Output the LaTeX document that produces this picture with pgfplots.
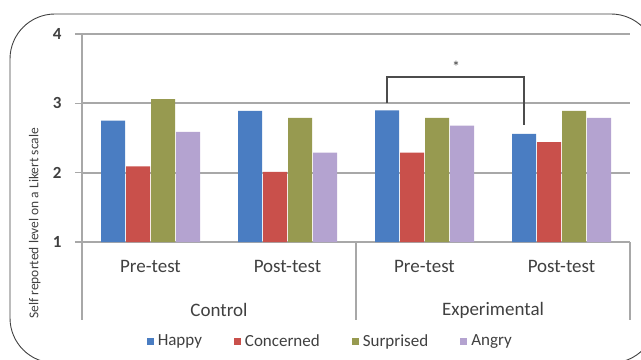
\documentclass[border=0pt]{standalone}
\usepackage{pgfplots}
\pgfplotsset{compat=1.18}
\usepackage{fontspec}
\setmainfont{Carlito}
\definecolor{cHappy}{HTML}{4A7DC2}
\definecolor{cConc}{HTML}{C9504B}
\definecolor{cSurp}{HTML}{979A50}
\definecolor{cAngry}{HTML}{B4A3D0}
\definecolor{gridgray}{HTML}{A8A8A8}
\definecolor{txt}{HTML}{404040}
\begin{document}
\begin{tikzpicture}
\clip (0,0) rectangle (641bp,360bp);
\draw[black!75, line width=0.9bp, rounded corners=45bp] (10bp,-3bp) rectangle (656bp,346bp);
\begin{axis}[
  name=ax, at={(82bp,118bp)}, anchor=south west,
  scale only axis, width=548bp, height=208bp,
  clip mode=individual,
  /pgf/number format/assume math mode=true,
  ybar=1bp, bar width=24bp,
  xmin=-0.5, xmax=3.5, ymin=1, ymax=4,
  xtick={0,1,2,3}, xticklabels={Pre-test,Post-test,Pre-test,Post-test},
  major x tick style={draw=none},
  ytick={1,2,3,4},
  ymajorgrids, grid style={draw=gridgray, line width=2bp},
  axis x line*=bottom, axis y line*=left,
  axis line style={draw=gridgray, line width=2bp},
  y tick style={draw=gridgray, line width=1.5bp},
  tick align=outside, major tick length=7bp,
  yticklabel style={font=\fontsize{17bp}{19bp}\selectfont\bfseries, text=txt, xshift=-10bp},
  xticklabel style={font=\fontsize{19bp}{22bp}\selectfont, text=txt, yshift=-8bp},
  ylabel={Self reported level on a Likert scale},
  ylabel style={at={(axis description cs:-0.086,0.09)}, anchor=center, font=\fontsize{13.5bp}{16bp}\selectfont, text=txt},
  legend columns=4,
  legend style={at={(axis description cs:0.453,-0.476)}, anchor=center, draw=none, fill=none,
    font=\fontsize{17bp}{19bp}\selectfont, text=txt,
    /tikz/every odd column/.append style={column sep=2bp},
    /tikz/every even column/.append style={column sep=30bp},
    inner sep=0pt},
  legend image code/.code={\fill[#1] (0bp,-3.5bp) rectangle (7bp,3.5bp);},
]
\addplot[fill=cHappy, draw=none] coordinates {(0,2.75) (1,2.89) (2,2.90) (3,2.56)};
\addplot[fill=cConc, draw=none] coordinates {(0,2.09) (1,2.01) (2,2.29) (3,2.44)};
\addplot[fill=cSurp, draw=none] coordinates {(0,3.06) (1,2.79) (2,2.79) (3,2.89)};
\addplot[fill=cAngry, draw=none] coordinates {(0,2.59) (1,2.29) (2,2.68) (3,2.79)};
\legend{Happy,Concerned,Surprised,Angry}
\draw[black!70, line width=2bp] (axis cs:1.726,3.0) -- (axis cs:1.726,3.38) -- (axis cs:2.726,3.38) -- (axis cs:2.726,2.69);
\node[font=\fontsize{16bp}{18bp}\selectfont, text=txt] at (axis cs:2.23,3.52) {*};
\draw[gridgray, line width=2bp] (axis cs:-0.5,1) -- ([yshift=-78bp]axis cs:-0.5,1);
\draw[gridgray, line width=2bp] (axis cs:1.5,1) -- ([yshift=-78bp]axis cs:1.5,1);
\draw[gridgray, line width=2bp] (axis cs:3.5,1) -- ([yshift=-78bp]axis cs:3.5,1);
\node[font=\fontsize{19bp}{22bp}\selectfont, text=txt] at (axis cs:0.5,1) [yshift=-68bp] {Control};
\node[font=\fontsize{19bp}{22bp}\selectfont, text=txt] at (axis cs:2.5,1) [yshift=-68bp] {Experimental};
\end{axis}
\end{tikzpicture}
\end{document}
